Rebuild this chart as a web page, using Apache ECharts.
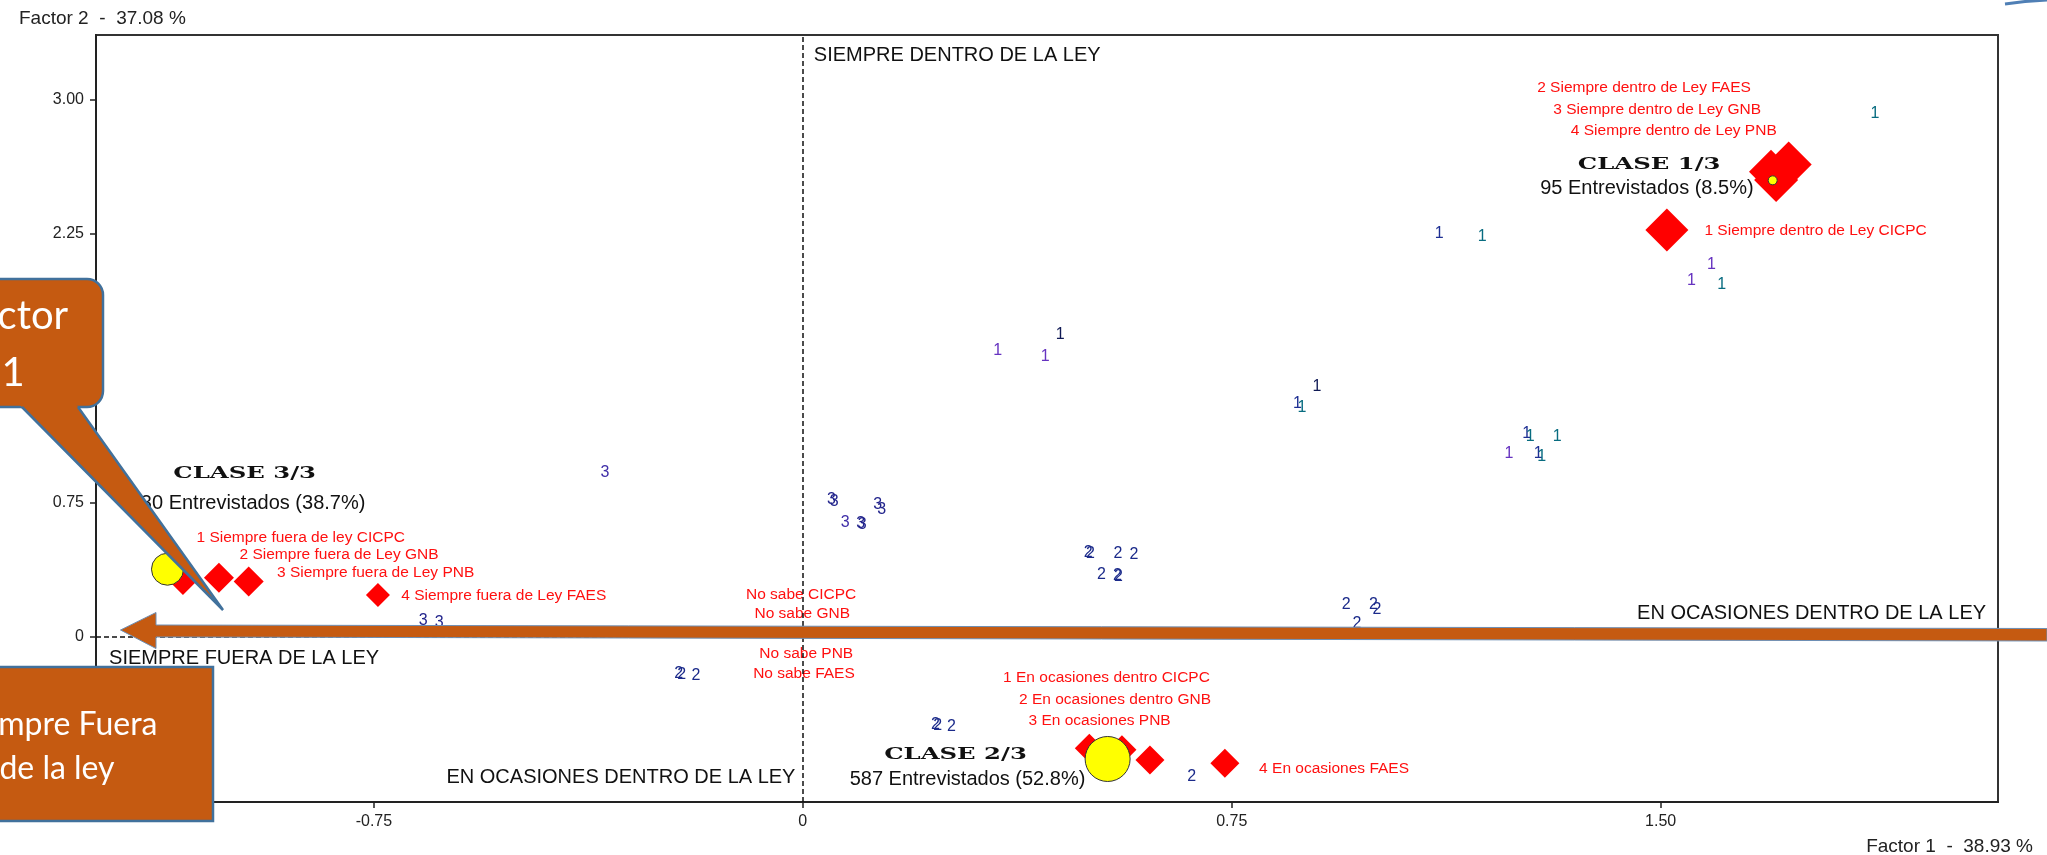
<!DOCTYPE html>
<html><head><meta charset="utf-8">
<script src="https://cdn.jsdelivr.net/npm/echarts@6.0.0/dist/echarts.min.js"></script>
<style>html,body{margin:0;padding:0;background:#fff;overflow:hidden}#chart{width:2047px;height:855px}</style>
</head><body><div id="chart"></div>
<script>
// ---------------- DATA ----------------
const xTickValues = [-0.75, 0, 0.75, 1.5];
const yTickValues = [-0.75, 0, 0.75, 1.5, 2.25, 3];
const xTitle = 'Factor 1  -  38.93 %';
const yTitle = 'Factor 2  -  37.08 %';

// class centroids
const classCentroids = [[1.696, 2.548], [0.533, -0.681], [-1.111, 0.378]];
const classTitles = [[1.480, 2.633, 'CLASE 1/3'], [0.267, -0.658, 'CLASE 2/3'], [-0.976, 0.908, 'CLASE 3/3']];
const classCounts = [[1.476, 2.502, '95 Entrevistados (8.5%)'], [0.288, -0.798, '587 Entrevistados (52.8%)'], [-0.971, 0.746, '430 Entrevistados (38.7%)']];

// active modalities (CICPC, FAES, GNB, PNB)
const siempreDentro = [[1.511, 2.271], [1.693, 2.596], [1.724, 2.637], [1.702, 2.550]];
const enOcasiones = [[0.501, -0.621], [0.558, -0.630], [0.607, -0.686], [0.738, -0.705]];
const siempreFuera = [[-1.084, 0.318], [-1.021, 0.331], [-0.969, 0.309], [-0.743, 0.234]];

const modalityLabels = [
  [-0.878, 0.554, '1 Siempre fuera de ley CICPC'],
  [-0.811, 0.458, '2 Siempre fuera de Ley GNB'],
  [-0.747, 0.361, '3 Siempre fuera de Ley PNB'],
  [-0.523, 0.229, '4 Siempre fuera de Ley FAES'],
  [-0.003, 0.234, 'No sabe CICPC'],
  [-0.001, 0.130, 'No sabe GNB'],
  [0.006, -0.091, 'No sabe PNB'],
  [0.002, -0.205, 'No sabe FAES'],
  [0.531, -0.230, '1 En ocasiones dentro CICPC'],
  [0.546, -0.348, '2 En ocasiones dentro GNB'],
  [0.519, -0.469, '3 En ocasiones PNB'],
  [0.929, -0.733, '4 En ocasiones FAES'],
  [1.771, 2.265, '1 Siempre dentro de Ley CICPC'],
  [1.471, 3.065, '2 Siempre dentro de Ley FAES'],
  [1.494, 2.944, '3 Siempre dentro de Ley GNB'],
  [1.523, 2.825, '4 Siempre dentro de Ley PNB']
];

const quadrantLabels = [
  [0.270, 3.247, 'SIEMPRE DENTRO DE LA LEY'],
  [-0.977, -0.119, 'SIEMPRE FUERA DE LA LEY'],
  [-0.318, -0.785, 'EN OCASIONES DENTRO DE LA LEY'],
  [1.764, 0.132, 'EN OCASIONES DENTRO DE LA LEY']
];

// individuals, by class digit
const onesNavy = [[1.113, 2.249], [0.865, 1.304], [1.266, 1.137], [1.286, 1.025]];
const onesDark = [[0.450, 1.685], [0.899, 1.397]];
const onesPurple = [[1.589, 2.076], [1.554, 1.986], [0.341, 1.596], [0.424, 1.564], [1.235, 1.025]];
const onesTeal = [[1.875, 2.918], [1.188, 2.233], [1.607, 1.964], [0.873, 1.279], [1.272, 1.118], [1.319, 1.118], [1.292, 1.006]];
const threesNavy = [[0.050, 0.764], [0.055, 0.753], [0.131, 0.736], [0.138, 0.712], [0.101, 0.633], [0.104, 0.625], [-0.664, 0.091], [-0.636, 0.082]];
const threesPurple = [[-0.346, 0.917], [0.074, 0.638]];
const twos = [[0.499, 0.469], [0.503, 0.463], [0.551, 0.463], [0.579, 0.458], [0.522, 0.346], [0.550, 0.343], [0.552, 0.335],
  [0.950, 0.179], [0.998, 0.182], [1.004, 0.155], [0.969, 0.076], [0.680, -0.779],
  [-0.217, -0.204], [-0.212, -0.209], [-0.187, -0.218], [0.232, -0.488], [0.236, -0.494], [0.260, -0.500]];

// ---------------- STYLE ----------------
const FONT = '"Liberation Sans", Arial, sans-serif';
const ORANGE = '#C55A11', CALLOUT_BORDER = '#41719C';
const dentroSizes = [43, 44, 46, 44];
const ocasionSizes = [29, 29, 29, 29];
const fueraSizes = [30, 30, 30, 24];
const centroidSizes = [9, 45, 32];

function textLayer(name, rows, color, size, z) {
  return {
    name, type: 'scatter', z, silent: true, symbolSize: 1,
    itemStyle: { color: 'rgba(0,0,0,0)', opacity: 1 },
    data: rows.map(r => [r[0], r[1]]),
    label: { show: true, position: 'inside', formatter: p => rows[p.dataIndex][2], color, fontSize: size, fontFamily: FONT, opacity: 1 },
    emphasis: { disabled: true }
  };
}
function digitLayer(name, pts, digit, color, z) {
  return {
    name, type: 'scatter', z, silent: true, symbolSize: 1,
    itemStyle: { color: 'rgba(0,0,0,0)', opacity: 1 },
    data: pts,
    label: { show: true, position: 'inside', formatter: digit, color, fontSize: 16, fontFamily: FONT, opacity: 1 },
    emphasis: { disabled: true }
  };
}
function diamondLayer(name, pts, sizes, z) {
  return {
    name, type: 'scatter', z, silent: true, symbol: 'diamond',
    symbolSize: (v, p) => sizes[p.dataIndex],
    itemStyle: { color: '#FF0000', opacity: 1 }, data: pts, emphasis: { disabled: true }
  };
}
const tickFmt = v => (Math.abs(v) < 1e-9 ? '0' : v.toFixed(2));

const chart = echarts.init(document.getElementById('chart'), null, { renderer: 'canvas' });
chart.setOption({
  animation: false,
  backgroundColor: '#fff',
  title: [
    { text: yTitle, left: 14, top: 4, textStyle: { fontFamily: FONT, fontSize: 19, fontWeight: 'normal', color: '#222' } },
    { text: xTitle, right: 9, top: 832, textStyle: { fontFamily: FONT, fontSize: 19, fontWeight: 'normal', color: '#222' } }
  ],
  grid: { left: 96, right: 49, top: 35, bottom: 53, show: true, borderColor: '#333', borderWidth: 2, backgroundColor: 'transparent' },
  xAxis: {
    type: 'value', min: -1.236, max: 2.090,
    axisLine: { show: true, onZero: false, lineStyle: { color: '#222', width: 2 } },
    axisTick: { show: true, length: 6, customValues: xTickValues, lineStyle: { color: '#222', width: 1.5 } },
    axisLabel: { customValues: xTickValues, formatter: tickFmt, fontSize: 16, color: '#222', margin: 12, fontFamily: FONT },
    splitLine: { show: false }
  },
  yAxis: {
    type: 'value', min: -0.921, max: 3.359,
    axisLine: { show: true, onZero: false, lineStyle: { color: '#222', width: 2 } },
    axisTick: { show: true, length: 6, customValues: yTickValues, lineStyle: { color: '#222', width: 1.5 } },
    axisLabel: { customValues: yTickValues, formatter: tickFmt, fontSize: 16, color: '#222', margin: 12, fontFamily: FONT },
    splitLine: { show: false }
  },
  series: [
    {
      name: 'axes0', type: 'scatter', data: [], z: 1, silent: true,
      markLine: {
        silent: true, symbol: ['none', 'none'], label: { show: false },
        lineStyle: { type: [5, 3], color: '#111', width: 1.5 },
        data: [{ xAxis: 0 }, { yAxis: 0 }]
      }
    },
    digitLayer('1a', onesNavy, '1', '#1e2f93', 3),
    digitLayer('1b', onesDark, '1', '#101a55', 3),
    digitLayer('1c', onesPurple, '1', '#6633c0', 3),
    digitLayer('1d', onesTeal, '1', '#086c80', 3),
    digitLayer('3a', threesNavy, '3', '#22248c', 3),
    digitLayer('3b', threesPurple, '3', '#3f2ea8', 3),
    digitLayer('2a', twos, '2', '#1b2a8a', 3),
    textLayer('modalities', modalityLabels, '#FF1010', 15.5, 4),
    textLayer('quadrants', quadrantLabels, '#111', 20, 4),
    textLayer('counts', classCounts, '#111', 20, 4),
    {
      name: 'classTitles', type: 'custom', coordinateSystem: 'cartesian2d', z: 4, silent: true,
      data: classTitles.map(r => [r[0], r[1]]),
      encode: { x: 0, y: 1 },
      renderItem: (params, api) => {
        const p = api.coord([api.value(0), api.value(1)]);
        return {
          type: 'text', x: p[0], y: p[1], scaleX: 1.52,
          style: { text: classTitles[params.dataIndex][2], font: 'bold 16px "DejaVu Serif", serif', fill: '#111', align: 'center', verticalAlign: 'middle' }
        };
      }
    },
    diamondLayer('Siempre dentro', siempreDentro, dentroSizes, 5),
    diamondLayer('En ocasiones', enOcasiones, ocasionSizes, 5),
    diamondLayer('Siempre fuera', siempreFuera, fueraSizes, 5),
    {
      name: 'Clases', type: 'scatter', z: 6, silent: true, symbol: 'circle',
      symbolSize: (v, p) => centroidSizes[p.dataIndex],
      itemStyle: { color: '#FFFF00', borderColor: '#333', borderWidth: 1, opacity: 1 },
      data: classCentroids, emphasis: { disabled: true }
    }
  ],
  graphic: [
    { type: 'polyline', z: 100, shape: { points: [[2005, 4], [2025, 1.5], [2047, 0]] }, style: { stroke: '#4f7fb5', lineWidth: 3, fill: null } },
    { type: 'polygon', z: 100, shape: { points: [[120.5, 630], [156, 612.5], [156, 625], [2047, 628.5], [2047, 641], [156, 637], [156, 648.5]] },
      style: { fill: ORANGE, stroke: '#6d8fb5', lineWidth: 1 } },
    { type: 'rect', z: 101, shape: { x: -90, y: 279, width: 193, height: 128, r: 16 }, style: { fill: ORANGE, stroke: CALLOUT_BORDER, lineWidth: 2.5 } },
    { type: 'polygon', z: 102, shape: { points: [[15, 400], [73, 400], [223, 610]] }, style: { fill: ORANGE } },
    { type: 'polyline', z: 103, shape: { points: [[22, 407], [223, 610], [78, 407]] }, style: { stroke: CALLOUT_BORDER, lineWidth: 2.5, fill: null } },
    { type: 'text', z: 104, style: { text: 'Factor\n1', x: 13, y: 344.5, align: 'center', verticalAlign: 'middle', font: '40px Lato, "Open Sans", sans-serif', lineHeight: 57, fill: '#fff' } },
    { type: 'rect', z: 101, shape: { x: -99, y: 667, width: 312, height: 154 }, style: { fill: ORANGE, stroke: CALLOUT_BORDER, lineWidth: 2.5 } },
    { type: 'text', z: 104, style: { text: 'Siempre Fuera\nde la ley', x: 57, y: 746.5, align: 'center', verticalAlign: 'middle', font: '32px Lato, "Open Sans", sans-serif', lineHeight: 44, fill: '#fff' } }
  ]
});
</script></body></html>
